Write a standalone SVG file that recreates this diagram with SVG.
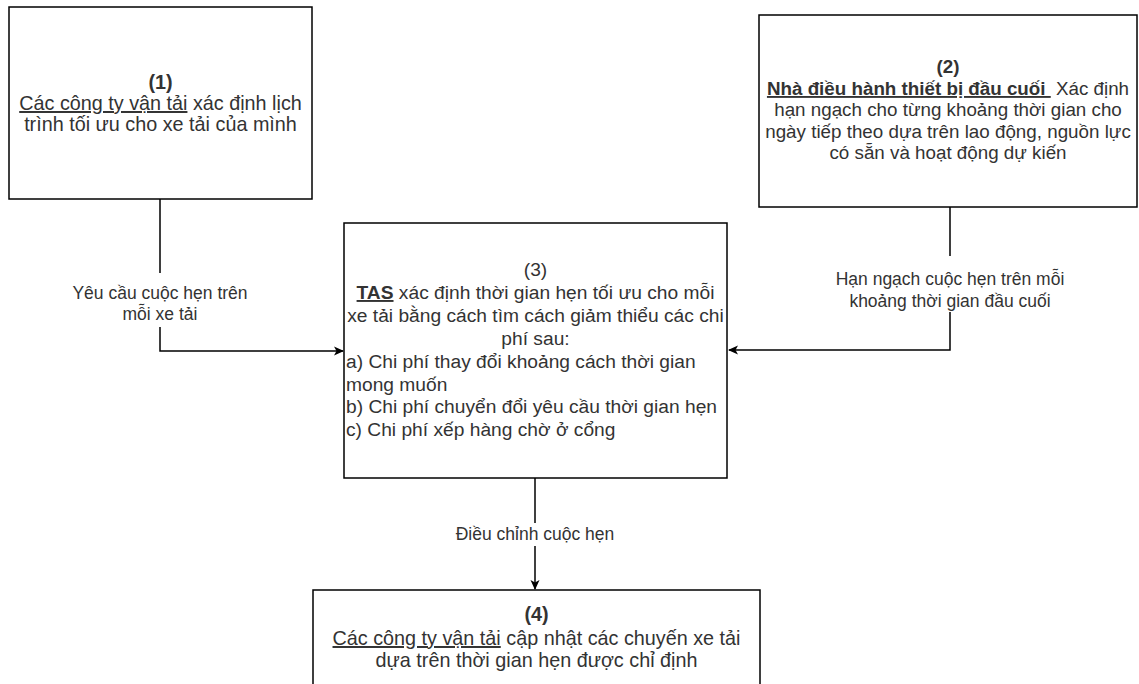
<svg xmlns="http://www.w3.org/2000/svg" width="1139" height="684" viewBox="0 0 1139 684">
<defs>
<style>
.box{fill:#fff;stroke:#000;stroke-width:1.5}
.t{font-family:"Liberation Sans",Arial,sans-serif;font-size:19px;fill:#333;white-space:pre}
.s1{font-size:19.8px}
.s2{font-size:18.8px}
.s3{font-size:19.2px}
.c{text-anchor:middle}
.b{font-weight:bold}
.u{text-decoration:underline}
.lbl{font-family:"Liberation Sans",Arial,sans-serif;font-size:17.5px;fill:#333;text-anchor:middle}
.edge{fill:none;stroke:#000;stroke-width:1.5}
</style>
<marker id="arr" viewBox="0 0 10 10" refX="9" refY="5" markerWidth="10" markerHeight="10" markerUnits="userSpaceOnUse" orient="auto">
<path d="M0,0.5 L10,5 L0,9.5 L2.5,5 Z" fill="#000"/>
</marker>
</defs>
<rect width="1139" height="684" fill="#fff"/>
<g id="connectors">
<path class="edge" d="M160,199 V351 H343" marker-end="url(#arr)"/>
<path class="edge" d="M950,207 V350 H729" marker-end="url(#arr)"/>
<path class="edge" d="M535,478 V589" marker-end="url(#arr)"/>
<g id="label1">
<rect x="60" y="273" width="200" height="54" fill="#fff"/>
<text class="lbl" x="160" y="299">Yêu cầu cuộc hẹn trên</text>
<text class="lbl" x="160" y="320">mỗi xe tải</text>
</g>
<g id="label2">
<rect x="830" y="256" width="240" height="56" fill="#fff"/>
<text class="lbl" x="950" y="285">Hạn ngạch cuộc hẹn trên mỗi</text>
<text class="lbl" x="950" y="307">khoảng thời gian đầu cuối</text>
</g>
<g id="label3">
<rect x="455" y="523" width="160" height="23" fill="#fff"/>
<text class="lbl" x="535" y="540">Điều chỉnh cuộc hẹn</text>
</g>
</g>
<g id="node1">
<rect class="box" x="9" y="7" width="303" height="192"/>
<text class="t s1 c" x="160.5" y="89"><tspan class="b">(1)</tspan></text>
<text class="t s1 c" x="160.5" y="110"><tspan class="u">Các công ty vận tải</tspan> xác định lịch</text>
<text class="t s1 c" x="160.5" y="131">trình tối ưu cho xe tải của mình</text>
</g>
<g id="node2">
<rect class="box" x="759" y="15" width="378" height="192"/>
<text class="t s2 c" x="948" y="73"><tspan class="b">(2)</tspan></text>
<text class="t s2 c" x="948" y="95"><tspan class="b u">Nhà điều hành thiết bị đầu cuối </tspan> Xác định</text>
<text class="t s2 c" x="948" y="116">hạn ngạch cho từng khoảng thời gian cho</text>
<text class="t s2 c" x="948" y="138">ngày tiếp theo dựa trên lao động, nguồn lực</text>
<text class="t s2 c" x="948" y="159">có sẵn và hoạt động dự kiến</text>
</g>
<g id="node3">
<rect class="box" x="344" y="223" width="383" height="255"/>
<text class="t s3 c" x="535.5" y="276">(3)</text>
<text class="t s3 c" x="535.5" y="299"><tspan class="b u">TAS</tspan> xác định thời gian hẹn tối ưu cho mỗi</text>
<text class="t s3 c" x="535.5" y="322">xe tải bằng cách tìm cách giảm thiểu các chi</text>
<text class="t s3 c" x="535.5" y="345">phí sau:</text>
<text class="t s3" x="346" y="368">a) Chi phí thay đổi khoảng cách thời gian</text>
<text class="t s3" x="346" y="391">mong muốn</text>
<text class="t s3" x="346" y="413">b) Chi phí chuyển đổi yêu cầu thời gian hẹn</text>
<text class="t s3" x="346" y="436">c) Chi phí xếp hàng chờ ở cổng</text>
</g>
<g id="node4">
<rect class="box" x="313" y="590" width="447" height="110"/>
<text class="t s1 c" x="536.5" y="621"><tspan class="b">(4)</tspan></text>
<text class="t s1 c" x="536.5" y="645"><tspan class="u">Các công ty vận tải</tspan> cập nhật các chuyến xe tải</text>
<text class="t s1 c" x="536.5" y="667">dựa trên thời gian hẹn được chỉ định</text>
</g>
</svg>
